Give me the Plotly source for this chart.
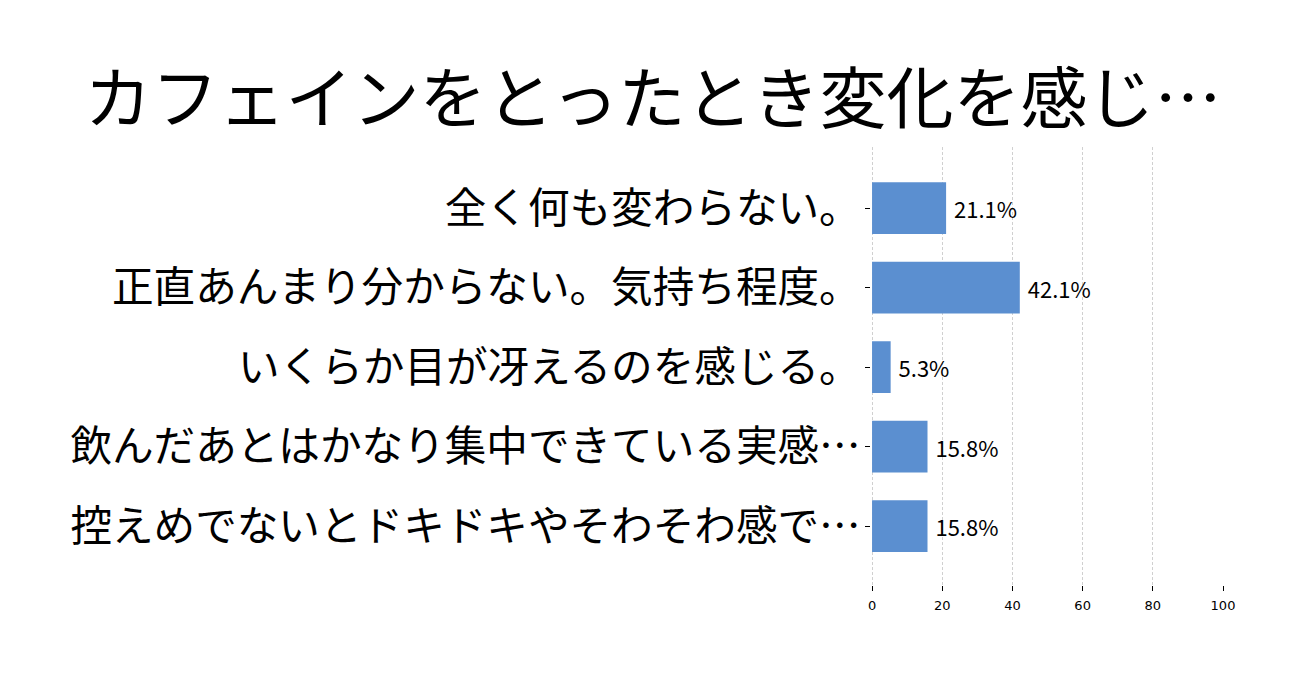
import plotly.graph_objects as go

title_text = "カフェインをとったとき変化を感じ…"
categories = [
    "全く何も変わらない。",
    "正直あんまり分からない。気持ち程度。",
    "いくらか目が冴えるのを感じる。",
    "飲んだあとはかなり集中できている実感…",
    "控えめでないとドキドキやそわそわ感で…",
]
values = [21.1, 42.1, 5.3, 15.8, 15.8]
value_labels = [f"{v:.1f}%" for v in values]
x_ticks = [0, 20, 40, 60, 80, 100]

JP = "Noto Sans CJK JP"

fig = go.Figure(
    go.Bar(
        x=values,
        y=categories,
        orientation="h",
        width=0.65,
        marker=dict(color="#5b8fd0", line=dict(width=0)),
        text=value_labels,
        texttemplate="\u00a0%{text}",
        textposition="outside",
        textfont=dict(family=JP, size=22, color="#000000"),
        cliponaxis=False,
        constraintext="none",
    )
)

fig.update_layout(
    width=1290,
    height=667,
    paper_bgcolor="white",
    plot_bgcolor="white",
    margin=dict(l=863, r=75, t=139, b=90),
    showlegend=False,
    title=dict(
        text=title_text,
        font=dict(family=JP, size=67, color="#000000"),
        x=0.5,
        xanchor="center",
        xref="container",
        y=1 - 92 / 667,
        yref="container",
        yanchor="middle",
    ),
    xaxis=dict(
        range=[-0.3, 100],
        tickvals=x_ticks,
        ticktext=[str(t) for t in x_ticks],
        ticks="outside",
        ticklen=5,
        tickcolor="#000000",
        ticklabelstandoff=3,
        tickfont=dict(family="DejaVu Sans", size=13, color="#000000"),
        showgrid=True,
        gridcolor="#d0d0d0",
        griddash="3px,2px",
        gridwidth=1,
        zeroline=False,
        showline=False,
    ),
    yaxis=dict(
        categoryorder="array",
        categoryarray=categories,
        range=[4.74, -0.77],
        ticks="outside",
        ticklen=5,
        tickcolor="#000000",
        ticklabelstandoff=-4,
        tickfont=dict(family=JP, size=41.6, color="#000000"),
        showgrid=False,
        zeroline=False,
        showline=False,
    ),
)

fig.write_html("out.html")
